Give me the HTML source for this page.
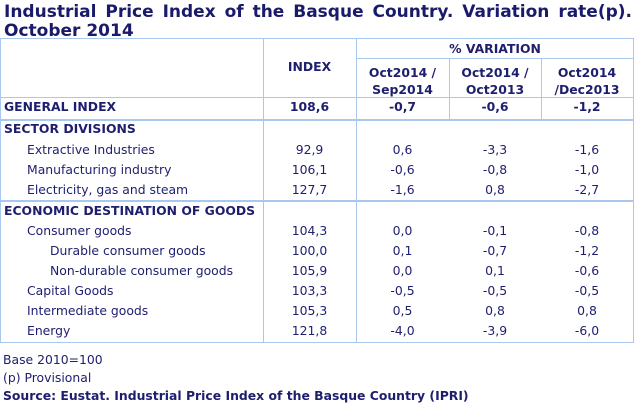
<!DOCTYPE html>
<html><head><meta charset="utf-8"><style>
body{margin:0;width:636px;height:406px;background:#fff;position:relative;font-family:"DejaVu Sans","Liberation Sans",sans-serif;color:#1e1e6e;overflow:hidden}
.t{position:absolute;white-space:nowrap;font-size:12.4px;line-height:14px}
.b{font-weight:bold}
.c{text-align:center}
.h{position:absolute;background:#a9c8ee}
#title{position:absolute;left:4px;top:3px;width:628px;font-size:17px;font-weight:bold;line-height:19px;text-align:justify;color:#1a1a6a}
</style></head><body>
<div id="title">Industrial Price Index of the Basque Country. Variation rate(p). October 2014</div>
<div>
<div class="h" style="left:0;top:38px;width:634px;height:1px"></div>
<div class="h" style="left:356px;top:58px;width:278px;height:1px"></div>
<div class="h" style="left:0;top:97px;width:634px;height:1px"></div>
<div class="h" style="left:0;top:119px;width:634px;height:2px"></div>
<div class="h" style="left:0;top:200px;width:634px;height:2px"></div>
<div class="h" style="left:0;top:342px;width:634px;height:1px"></div>
<div class="h" style="left:0;top:38px;width:1px;height:305px"></div>
<div class="h" style="left:633px;top:38px;width:1px;height:305px"></div>
<div class="h" style="left:263px;top:38px;width:1px;height:305px"></div>
<div class="h" style="left:356px;top:38px;width:1px;height:305px"></div>
<div class="h" style="left:449px;top:58px;width:1px;height:61px"></div>
<div class="h" style="left:541px;top:58px;width:1px;height:61px"></div>
</div>
<div class="t b c" style="left:356px;width:278px;top:42px">% VARIATION</div>
<div class="t b c" style="left:263px;width:93px;top:60px">INDEX</div>
<div class="t b c" style="left:356px;width:93px;top:64px;line-height:17px">Oct2014 /<br>Sep2014</div>
<div class="t b c" style="left:449px;width:92px;top:64px;line-height:17px">Oct2014 /<br>Oct2013</div>
<div class="t b c" style="left:541px;width:92px;top:64px;line-height:17px">Oct2014<br>/Dec2013</div>
<div id="rows"></div>
<div class="t" style="left:3px;top:353px">Base 2010=100</div>
<div class="t" style="left:3px;top:371px">(p) Provisional</div>
<div class="t b" style="left:3px;top:389px">Source: Eustat. Industrial Price Index of the Basque Country (IPRI)</div>
<script>
const labels=["GENERAL INDEX","SECTOR DIVISIONS","Extractive Industries","Manufacturing industry","Electricity, gas and steam","ECONOMIC DESTINATION OF GOODS","Consumer goods","Durable consumer goods","Non-durable consumer goods","Capital Goods","Intermediate goods","Energy"];
const indent=[0,0,1,1,1,0,1,2,2,1,1,1];
const bold=[1,1,0,0,0,1,0,0,0,0,0,0];
const indexVals=["108,6","","92,9","106,1","127,7","","104,3","100,0","105,9","103,3","105,3","121,8"];
const varSep=["-0,7","","0,6","-0,6","-1,6","","0,0","0,1","0,0","-0,5","0,5","-4,0"];
const varOct=["-0,6","","-3,3","-0,8","0,8","","-0,1","-0,7","0,1","-0,5","0,8","-3,9"];
const varDec=["-1,2","","-1,6","-1,0","-2,7","","-0,8","-1,2","-0,6","-0,5","0,8","-6,0"];
const rowY=[100,122,143,163,183,204,224,244,264,284,304,324];
const root=document.getElementById('rows');
function cell(txt,l,w,y,b,align){const d=document.createElement('div');d.className='t'+(b?' b':'');d.style.left=l+'px';d.style.width=w+'px';d.style.top=y+'px';d.style.textAlign=align;d.textContent=txt;root.appendChild(d);return d;}
labels.forEach((lab,i)=>{
 const y=rowY[i],b=bold[i];
 const a=cell(lab,4+indent[i]*23,255,y,b,'left');
 
 
 const cols=[[indexVals,263,93],[varSep,356,93],[varOct,449,92],[varDec,541,92]];
 cols.forEach(([arr,l,w])=>{if(arr[i]!==''){const c=cell(arr[i],l,w,y,b,'center');
 
 }});
});
</script>
</body></html>
